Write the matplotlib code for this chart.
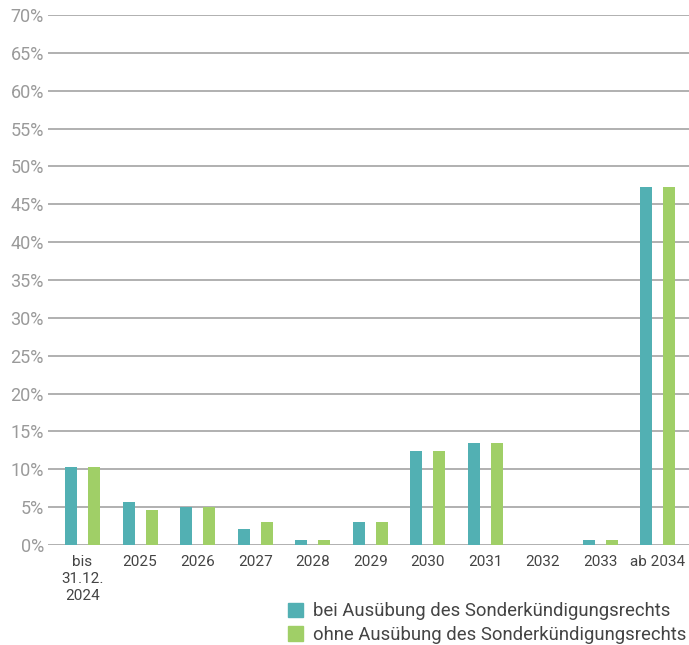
import matplotlib
matplotlib.use("Agg")
import matplotlib.pyplot as plt
from matplotlib.patches import Patch
import numpy as np

categories = ["bis\n31.12.\n2024", "2025", "2026", "2027", "2028", "2029",
              "2030", "2031", "2032", "2033", "ab 2034"]
mit = [10.3, 5.7, 5.0, 2.1, 0.7, 3.0, 12.4, 13.5, 0.0, 0.7, 47.3]
ohne = [10.3, 4.6, 5.0, 3.0, 0.7, 3.0, 12.4, 13.5, 0.0, 0.7, 47.3]
series_labels = ["bei Ausübung des Sonderkündigungsrechts",
                 "ohne Ausübung des Sonderkündigungsrechts"]
yticks = list(range(0, 71, 5))

teal = "#52B0B3"
green = "#A0CF67"

plt.rcParams['font.family'] = ['Roboto', 'DejaVu Sans']

fig = plt.figure(figsize=(6.89, 6.45), dpi=100)
ax = fig.add_axes([48/689, 100/645, 1 - 48/689, 530/645])

x = np.arange(len(categories))
w = 0.21
ax.bar(x - 0.2, mit, width=w, color=teal, zorder=3)
ax.bar(x + 0.2, ohne, width=w, color=green, zorder=3)

ax.set_xlim(-0.6, 10.54)
ax.set_ylim(0, 70)
ax.set_yticks(yticks)
ax.set_yticklabels([f"{t}%" for t in yticks])
ax.yaxis.grid(True, color="#b0b0b0", linewidth=1.4, zorder=0)
ax.set_axisbelow(True)
for s in ax.spines.values():
    s.set_visible(False)
ax.tick_params(axis="y", length=0, pad=3, labelsize=13, labelcolor="#9a9a9a")
ax.tick_params(axis="x", length=0, pad=7, labelsize=11, labelcolor="#444444")
ax.set_xticks(x)
ax.set_xticklabels(categories, linespacing=1.3)

handles = [Patch(color=teal), Patch(color=green)]
fig.legend(handles, series_labels, loc="lower right",
           bbox_to_anchor=(1.0116, -0.0155), frameon=False, fontsize=13.3,
           handlelength=0.85, handleheight=0.85, handletextpad=0.5,
           labelspacing=0.3, labelcolor="#444444", borderaxespad=0.2)

fig.savefig("out.png", dpi=100)
